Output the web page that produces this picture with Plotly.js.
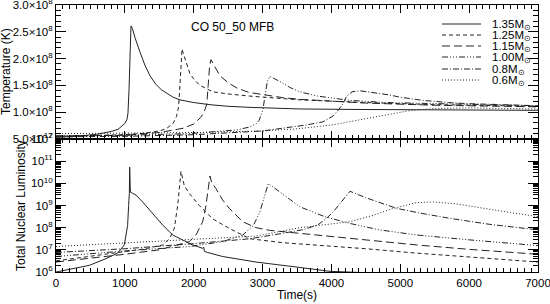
<!DOCTYPE html>
<html><head><meta charset="utf-8">
<script src="https://cdn.plot.ly/plotly-3.0.1.min.js"></script>
<style>html,body{margin:0;padding:0;background:#fff}</style>
</head><body><div id="chart" style="width:550px;height:304px"></div>
<script>
// ---------- DATA ----------
const massLabels = ['1.35M<sub>⊙</sub>','1.25M<sub>⊙</sub>','1.15M<sub>⊙</sub>','1.00M<sub>⊙</sub>','0.8M<sub>⊙</sub>','0.6M<sub>⊙</sub>'];

// Temperature (K) vs time (s)
const tT135 = [0,300,600,800,900,960,1000,1030,1045,1060,1075,1089,1110,1150,1220,1290,1365,1450,1530,1612,1700,1800,2000,2236,2500,2817,3200,3543,4500,5500,7000];
const T135  = [0.53e8,0.55e8,0.59e8,0.64e8,0.68e8,0.74e8,0.79e8,0.86e8,0.98e8,1.4e8,2.3e8,2.61e8,2.56e8,2.38e8,2.12e8,1.88e8,1.68e8,1.52e8,1.42e8,1.35e8,1.28e8,1.23e8,1.18e8,1.14e8,1.11e8,1.09e8,1.07e8,1.06e8,1.05e8,1.04e8,1.035e8];
const tT125 = [0,500,1000,1300,1500,1600,1700,1750,1780,1800,1815,1830,1860,1900,1945,2000,2090,2280,2500,2817,3006,3543,4500,5500,7000];
const T125  = [0.55e8,0.56e8,0.58e8,0.61e8,0.65e8,0.69e8,0.79e8,0.92e8,1.1e8,1.5e8,1.95e8,2.18e8,2.05e8,1.88e8,1.72e8,1.62e8,1.5e8,1.38e8,1.34e8,1.30e8,1.28e8,1.23e8,1.18e8,1.14e8,1.11e8];
const tT115 = [0,500,1000,1500,1845,2000,2047,2100,2150,2190,2210,2230,2250,2300,2380,2500,2628,2800,3064,3300,3543,4500,5500,7000];
const T115  = [0.55e8,0.555e8,0.57e8,0.62e8,0.70e8,0.78e8,0.83e8,0.9e8,1.0e8,1.15e8,1.5e8,1.85e8,1.98e8,1.86e8,1.68e8,1.55e8,1.45e8,1.37e8,1.31e8,1.27e8,1.24e8,1.17e8,1.13e8,1.10e8];
const tT100 = [0,1000,1936,2400,2628,2800,2904,2950,3006,3040,3070,3107,3200,3296,3400,3543,3800,4269,4800,5474,6200,7000];
const T100  = [0.56e8,0.57e8,0.60e8,0.64e8,0.67e8,0.72e8,0.78e8,0.85e8,1.05e8,1.35e8,1.58e8,1.67e8,1.61e8,1.54e8,1.46e8,1.38e8,1.30e8,1.22e8,1.18e8,1.16e8,1.14e8,1.12e8];
const tT080 = [0,1000,2000,3000,3398,3630,3877,4027,4124,4170,4221,4300,4414,4600,4850,4995,5329,5700,5968,6500,7000];
const T080  = [0.54e8,0.55e8,0.58e8,0.65e8,0.72e8,0.76e8,0.82e8,0.93e8,1.08e8,1.16e8,1.30e8,1.38e8,1.40e8,1.37e8,1.32e8,1.28e8,1.22e8,1.18e8,1.16e8,1.14e8,1.12e8];
const tT060 = [0,1000,2000,3000,3500,4000,4500,4800,5140,5500,6000,6500,7000];
const T060  = [0.60e8,0.61e8,0.62e8,0.65e8,0.69e8,0.76e8,0.87e8,0.95e8,1.03e8,1.07e8,1.08e8,1.07e8,1.06e8];

// Total nuclear luminosity vs time (s)
const tL135 = [0,484,726,895,992,1040,1055,1065,1070,1080,1113,1162,1258,1404,1549,1694,1839,1984,2130,2145,2155,2200,2420,2904,3500,3979,4500,5000];
const L135  = [1.0e6,2.0e6,4.0e6,7.1e6,1.66e7,1.26e8,1.0e9,3.47e9,5.37e10,3.98e9,3.55e9,2.95e9,1.45e9,4.37e8,1.32e8,4.68e7,2.82e7,1.66e7,1.17e7,1.32e7,8.5e6,7.6e6,5.0e6,2.82e6,1.66e6,1.07e6,9.3e5,7.9e5];
const tL125 = [0,500,1000,1300,1549,1650,1718,1767,1795,1815,1863,1936,2081,2275,2517,2817,3300,3785,4500,5237,6000,7000];
const L125  = [3.16e6,5.25e6,8.3e6,1.12e7,1.66e7,3.16e7,9.3e7,1.0e9,7.94e9,3.47e10,7.94e9,3.47e9,1.0e9,2.51e8,9.3e7,3.16e7,2.09e7,1.66e7,1.12e7,7.1e6,4.8e6,2.82e6];
const tL115 = [0,500,1000,1500,1936,2033,2130,2178,2210,2236,2260,2323,2420,2517,2711,2904,3100,3785,4500,5237,6000,7000];
const L115  = [2.82e6,4.17e6,6.31e6,1.0e7,2.34e7,4.68e7,1.86e8,1.0e9,6.31e9,2.14e10,1.12e10,5.75e9,1.78e9,7.41e8,1.86e8,1.0e8,7.59e7,4.68e7,2.82e7,1.66e7,1.05e7,6.31e6];
const tL100 = [0,1000,1936,2420,2711,2865,2962,3030,3083,3150,3300,3543,3900,4269,4700,5237,6000,7000];
const L100  = [5.0e6,8.9e6,1.41e7,2.34e7,4.68e7,1.23e8,5.25e8,2.51e9,9.8e9,6.9e9,3.16e9,8.7e8,3.16e8,1.55e8,7.94e7,4.68e7,2.82e7,1.55e7];
const tL080 = [0,1000,2000,2817,3301,3600,3800,3930,4050,4124,4200,4269,4500,4947,5300,5721,6300,7000];
const L080  = [7.6e6,1.12e7,1.9e7,3.16e7,5.62e7,8.3e7,1.32e8,2.63e8,6.31e8,1.23e9,2.51e9,4.37e9,2.24e9,7.41e8,4.47e8,2.63e8,1.41e8,7.94e7];
const tL060 = [0,1000,2000,2904,3543,4269,4600,4898,5237,5479,5800,6205,6600,7000];
const L060  = [1.41e7,2.0e7,2.82e7,4.17e7,1.0e8,1.86e8,3.55e8,7.41e8,1.35e9,1.45e9,1.2e9,7.41e8,4.79e8,3.16e8];

const xTickVals = [0,1000,2000,3000,4000,5000,6000,7000];
const tTickVals = [0.5e8,1.0e8,1.5e8,2.0e8,2.5e8,3.0e8];
const tTickText = ['5.0×10<sup>7</sup>','1.0×10<sup>8</sup>','1.5×10<sup>8</sup>','2.0×10<sup>8</sup>','2.5×10<sup>8</sup>','3.0×10<sup>8</sup>'];
const lTickVals = [1e6,1e7,1e8,1e9,1e10,1e11,1e12];
const lTickText = ['10<sup>6</sup>','10<sup>7</sup>','10<sup>8</sup>','10<sup>9</sup>','10<sup>10</sup>','10<sup>11</sup>','10<sup>12</sup>'];

// ---------- STYLE ----------
const dashes = ['solid','4px,3px','8px,4px','6px,2px,1px,2px,1px,2px,1px,2px','6px,2px,1px,2px','1px,2px'];
const lineColor = '#222';
const tSeries = [[tT135,T135],[tT125,T125],[tT115,T115],[tT100,T100],[tT080,T080],[tT060,T060]];
const lSeries = [[tL135,L135],[tL125,L125],[tL115,L115],[tL100,L100],[tL080,L080],[tL060,L060]];

const traces = [];
tSeries.forEach((s,i)=>traces.push({x:s[0],y:s[1],xaxis:'x2',yaxis:'y2',mode:'lines',name:massLabels[i],showlegend:false,
  line:{color:lineColor,width:1,dash:dashes[i]}}));
lSeries.forEach((s,i)=>traces.push({x:s[0],y:s[1],xaxis:'x',yaxis:'y',mode:'lines',name:massLabels[i],showlegend:false,
  line:{color:lineColor,width:1,dash:dashes[i]}}));

// manual compact legend (paper coordinates)
const L=56, R=538, B=272, TOP=5, W=R-L, H=B-TOP;
const px = v => (v-L)/W, py = v => (B-v)/H;
const legY = [24,35,46,57,69,80];
const shapes = [], annotations = [];
legY.forEach((y,i)=>{
  shapes.push({type:'line',xref:'paper',yref:'paper',x0:px(442),x1:px(481),y0:py(y),y1:py(y),line:{color:lineColor,width:1,dash:dashes[i]}});
  annotations.push({xref:'paper',yref:'paper',x:px(490),y:py(y+1),xanchor:'left',yanchor:'middle',showarrow:false,
    text:massLabels[i],font:{size:11.5,color:'#000'}});
});
annotations.push({xref:'paper',yref:'paper',x:px(232),y:py(27),xanchor:'center',yanchor:'middle',showarrow:false,text:'CO 50_50 MFB',font:{size:12,color:'#000'}});
annotations.push({xref:'paper',yref:'paper',x:px(6),y:py(72),xanchor:'center',yanchor:'middle',showarrow:false,textangle:-90,text:'Temperature (K)',font:{size:12,color:'#000'}});
annotations.push({xref:'paper',yref:'paper',x:px(21),y:py(206),xanchor:'center',yanchor:'middle',showarrow:false,textangle:-90,text:'Total Nuclear Luminosity',font:{size:12,color:'#000'}});

const axBase = {showline:true,linecolor:'#000',linewidth:1,mirror:'allticks',ticks:'inside',tickcolor:'#000',showgrid:false,zeroline:false,
  tickfont:{size:11.5,color:'#000'},ticklabeloverflow:'allow'};
const split = 133/267;
const layout = {
  width:550,height:304,margin:{l:56,r:12,t:5,b:32},
  paper_bgcolor:'#fff',plot_bgcolor:'#fff',
  font:{family:'Liberation Sans, Arial, sans-serif',size:12,color:'#000'},
  showlegend:false,
  xaxis:Object.assign({},axBase,{range:[0,7000.01],tickmode:'array',tickvals:xTickVals,ticklen:8,
    minor:{tickmode:'linear',tick0:0,dtick:100,ticks:'inside',ticklen:4,tickcolor:'#000',showgrid:false},
    title:{text:'Time(s)',font:{size:12},standoff:2},anchor:'y'}),
  xaxis2:Object.assign({},axBase,{range:[0,7000.01],tickmode:'array',tickvals:xTickVals,ticklen:8,showticklabels:false,
    minor:{tickmode:'linear',tick0:0,dtick:100,ticks:'inside',ticklen:4,tickcolor:'#000',showgrid:false},anchor:'y2',matches:'x'}),
  yaxis:Object.assign({},axBase,{type:'log',range:[6,12.0001],domain:[0,split],tickmode:'array',tickvals:lTickVals,ticktext:lTickText,ticklen:10,
    minor:{dtick:'D1',ticks:'inside',ticklen:5,tickcolor:'#000',showgrid:false},anchor:'x'}),
  yaxis2:Object.assign({},axBase,{range:[0.4999e8,3.0001e8],domain:[split,1],tickmode:'array',tickvals:tTickVals,ticktext:tTickText,ticklen:10,
    minor:{tickmode:'linear',tick0:0,dtick:1e7,ticks:'inside',ticklen:5,tickcolor:'#000',showgrid:false},anchor:'x2'}),
  shapes:shapes,annotations:annotations
};
Plotly.newPlot('chart',traces,layout,{staticPlot:true,displayModeBar:false});
</script></body></html>
